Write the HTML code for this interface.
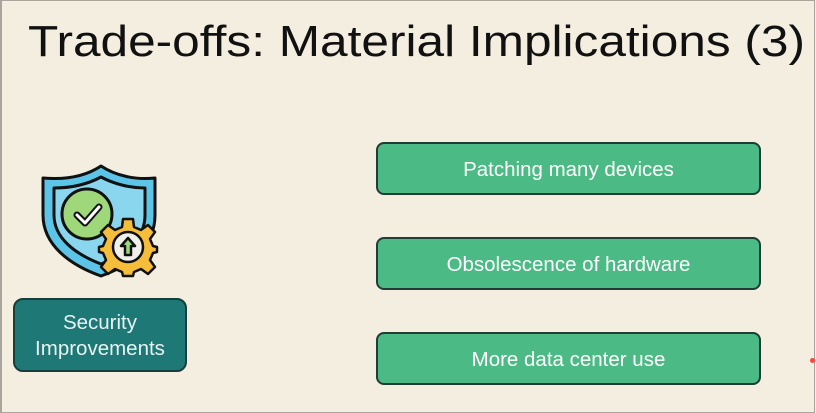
<!DOCTYPE html>
<html><head><style>
html,body{margin:0;padding:0;background:#f3eedf;}
body{width:816px;height:413px;overflow:hidden;position:relative;font-family:"Liberation Sans",sans-serif;}
.frame{position:absolute;left:0;top:0;width:812px;height:411px;border:1px solid #a8a59c;border-left-width:2px;}
.b{position:absolute;left:376px;background:#4bba84;border:2px solid #1f3d35;border-radius:8px;color:#fff;font-size:20.5px;display:flex;align-items:center;justify-content:center;box-sizing:border-box;width:385px;height:53px;padding-top:2px;}
.s{position:absolute;left:13px;top:298px;width:174px;height:74px;box-sizing:border-box;background:#1d7876;border:2px solid #163f3c;border-radius:10px;color:#e8f3f2;font-size:20.5px;line-height:26px;display:flex;align-items:center;justify-content:center;text-align:center;padding-top:2px;}
</style></head><body>
<div class="frame"></div>
<svg style="position:absolute;left:0;top:0" width="816" height="100">
<text x="28" y="56" font-family="Liberation Sans, sans-serif" font-size="44" fill="#111" textLength="777" lengthAdjust="spacingAndGlyphs">Trade-offs: Material Implications (3)</text>
</svg>
<svg style="position:absolute;left:36px;top:160px" width="130" height="130" viewBox="36 160 130 130">
<path d="M101 166 C86 176 66 180 43 178 L43 215 C43 245 70 265 101 276 C132 265 155 245 155 215 L155 178 C136 180 116 176 101 166Z" fill="#5cc4e6" stroke="#111" stroke-width="3" stroke-linejoin="round"/>
<path d="M101 177 C88 184 72 188 54 188 L54 215 C54 238 75 254 101 264 C127 254 145 238 145 215 L145 188 C130 188 114 184 101 177Z" fill="#8bd6ef" stroke="#111" stroke-width="3" stroke-linejoin="round"/>
<circle cx="87" cy="214" r="25" fill="#9fd87a" stroke="#111" stroke-width="3"/>
<path d="M77 215 L85 223 L99 207" fill="none" stroke="#111" stroke-width="7" stroke-linecap="round" stroke-linejoin="round"/>
<path d="M77 215 L85 223 L99 207" fill="none" stroke="#fff" stroke-width="3" stroke-linecap="round" stroke-linejoin="round"/>
<g transform="translate(128,247)">
<path d="M-5 -28 L5 -28 L6 -20 L13 -17 L20 -22 L27 -15 L22 -8 L25 -1 L29 0 L29 5 L25 6 L22 13 L27 20 L20 27 L13 22 L6 25 L5 29 L-5 29 L-6 25 L-13 22 L-20 27 L-27 20 L-22 13 L-25 6 L-29 5 L-29 0 L-25 -1 L-22 -8 L-27 -15 L-20 -22 L-13 -17 L-6 -20Z" fill="#f5be3a" stroke="#111" stroke-width="2.5" stroke-linejoin="round"/>
<circle r="15" fill="#f0f0ea" stroke="#111" stroke-width="2.5"/>
<path d="M0 -9 L7 -1 L3 -1 L3 8 L-3 8 L-3 -1 L-7 -1Z" fill="#9fd87a" stroke="#111" stroke-width="2.5" stroke-linejoin="round"/>
</g>
</svg>
<div class="s">Security<br>Improvements</div>
<div class="b" style="top:142px">Patching many devices</div>
<div class="b" style="top:237px">Obsolescence of hardware</div>
<div class="b" style="top:332px">More data center use</div>
<div style="position:absolute;left:810px;top:358px;width:5px;height:5px;border-radius:50%;background:#f44;"></div>
</body></html>
